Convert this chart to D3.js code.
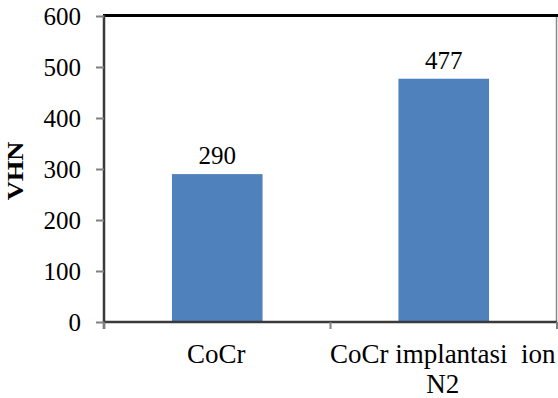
<!DOCTYPE html>
<html>
<head>
<meta charset="utf-8">
<script src="https://cdn.jsdelivr.net/npm/d3@7/dist/d3.min.js"></script>
<style>
  html, body { margin: 0; padding: 0; background: #fff; }
  svg { display: block; }
</style>
</head>
<body>
<svg id="chart" width="558" height="398"></svg>
<script>
// Vickers hardness of CoCr before and after N2 ion implantation
const categories = ["CoCr", "CoCr implantasi  ion N2"];
const categoryLines = [["CoCr"], ["CoCr implantasi  ion", "N2"]];
const values = [290, 477];
const yTicks = [0, 100, 200, 300, 400, 500, 600];
const yLabel = "VHN";

const SERIF = "'Liberation Serif', 'Times New Roman', Times, serif";
const svg = d3.select("#chart");
const plotLeft = 104, plotRight = 557, plotTop = 16, plotBottom = 322;

const x = d3.scaleBand()
  .domain(categories)
  .range([plotLeft, plotRight])
  .paddingInner(0.6)
  .paddingOuter(0.3);

const y = d3.scaleLinear().domain([0, 600]).range([plotBottom, plotTop]);

// bars
svg.append("g").selectAll("rect")
  .data(values)
  .join("rect")
  .attr("x", (d, i) => x(categories[i]))
  .attr("width", x.bandwidth())
  .attr("y", d => y(d))
  .attr("height", d => y(0) - y(d))
  .attr("fill", "#4F81BD");

// value labels
svg.append("g").selectAll("text")
  .data(values)
  .join("text")
  .attr("x", (d, i) => x(categories[i]) + x.bandwidth() / 2)
  .attr("y", d => y(d) - 10)
  .attr("text-anchor", "middle")
  .style("font-family", SERIF)
  .style("font-size", "25px")
  .style("fill", "#000")
  .text(d => d);

// plot frame: right and top edges
svg.append("line")
  .attr("x1", plotRight - 0.5).attr("x2", plotRight - 0.5)
  .attr("y1", plotTop).attr("y2", plotBottom)
  .attr("stroke", "#8a8a8a").attr("stroke-width", 1.5);
svg.append("line")
  .attr("x1", plotLeft - 1).attr("x2", 558)
  .attr("y1", plotTop - 0.5).attr("y2", plotTop - 0.5)
  .attr("stroke", "#000").attr("stroke-width", 3);

// y axis
const yAxis = svg.append("g")
  .attr("transform", `translate(${plotLeft},0)`)
  .call(d3.axisLeft(y).tickValues(yTicks).tickSize(8).tickPadding(15).tickSizeOuter(0));
yAxis.attr("font-family", null).attr("font-size", null);
yAxis.select(".domain").attr("stroke", "#3a3a3a").attr("stroke-width", 2.5)
  .attr("d", `M0,${plotTop - 1}V${plotBottom + 7}`);
yAxis.selectAll(".tick line").attr("stroke", "#808080").attr("stroke-width", 2);
yAxis.selectAll(".tick text")
  .style("font-family", SERIF)
  .style("font-size", "25px")
  .style("fill", "#000")
  .attr("dy", "0.34em");

// x axis with ticks on category boundaries
const xAxisG = svg.append("g");
xAxisG.append("line")
  .attr("x1", plotLeft).attr("x2", plotRight)
  .attr("y1", plotBottom).attr("y2", plotBottom)
  .attr("stroke", "#3a3a3a").attr("stroke-width", 2.5);
const boundaries = [plotLeft, ...categories.map(c => x(c) - x.step() * x.paddingInner() / 2 + x.step())];
xAxisG.selectAll("line.tick")
  .data(boundaries)
  .join("line")
  .attr("class", "tick")
  .attr("x1", d => d).attr("x2", d => d)
  .attr("y1", plotBottom).attr("y2", plotBottom + 7)
  .attr("stroke", "#808080").attr("stroke-width", 2);

// category labels
const catLabels = svg.append("g").selectAll("text")
  .data(categoryLines)
  .join("text")
  .attr("text-anchor", "middle")
  .style("font-family", SERIF)
  .style("font-size", "27px")
  .style("fill", "#000")
  .style("white-space", "pre")
  .attr("transform", (d, i) => `translate(${x(categories[i]) + x.bandwidth() / 2 - 1},363)`);
catLabels.selectAll("tspan")
  .data(d => d)
  .join("tspan")
  .attr("x", 0)
  .attr("y", (d, j) => j * 30)
  .text(d => d);

// y axis title
svg.append("text")
  .attr("transform", "translate(23,171) rotate(-90) scale(1.15,1)")
  .attr("text-anchor", "middle")
  .style("font-family", SERIF)
  .style("font-size", "23px")
  .style("font-weight", "bold")
  .style("fill", "#000")
  .text(yLabel);
</script>
</body>
</html>
